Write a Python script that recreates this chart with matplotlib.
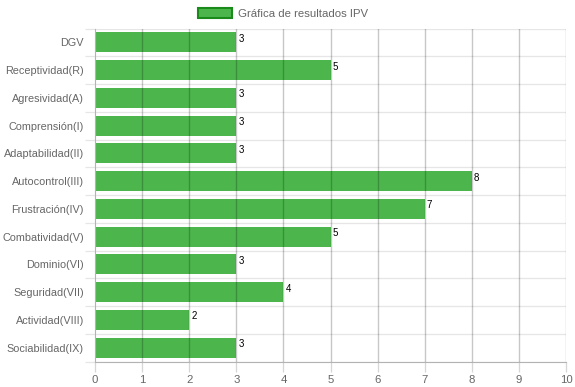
import matplotlib
matplotlib.use('Agg')
import matplotlib.pyplot as plt
from matplotlib.patches import Patch

plt.rcParams['font.family'] = ['Liberation Sans', 'DejaVu Sans']

categories = ['DGV', 'Receptividad(R)', 'Agresividad(A)', 'Comprensión(I)',
              'Adaptabilidad(II)', 'Autocontrol(III)', 'Frustración(IV)',
              'Combatividad(V)', 'Dominio(VI)', 'Seguridad(VII)',
              'Actividad(VIII)', 'Sociabilidad(IX)']
values = [3, 5, 3, 3, 3, 8, 7, 5, 3, 4, 2, 3]
series_label = 'Gráfica de resultados IPV'

bar_color = '#4cb64c'
edge_color = '#1a8a1a'
text_color = '#666666'

fig = plt.figure(figsize=(5.75, 3.87), dpi=100)
ax = fig.add_axes([95 / 575, 1 - 361.5 / 387, 471 / 575, 333 / 387])

n = len(categories)
ypos = list(range(n))
ax.barh(ypos, values, height=0.72, color=bar_color, zorder=2)

# value labels at bar ends
for y, v in zip(ypos, values):
    ax.annotate(str(v), (v, y - 0.36), textcoords='offset points', xytext=(1.5, -1),
                ha='left', va='top', fontsize=7, color='black', zorder=4)

ax.set_xlim(0, 10)
ax.set_ylim(n - 0.5, -0.5)
ax.set_xticks(range(0, 11))
ax.set_yticks(ypos)
ax.set_yticklabels(categories)
ax.set_yticks([b - 0.5 for b in range(n + 1)], minor=True)

# vertical grid over the bars, light horizontal grid at band edges
for x in range(1, 11):
    ax.axvline(x, color='black', alpha=0.22, lw=1.0, zorder=3)
for b in range(n + 1):
    ax.axhline(b - 0.5, color='#e6e6e6', lw=0.9, zorder=1)

for s in ['top', 'right']:
    ax.spines[s].set_visible(False)
ax.spines['left'].set_color('#b3b3b3')
ax.spines['bottom'].set_color('#b3b3b3')
ax.tick_params(axis='x', colors='#d6d6d6', labelcolor=text_color,
               labelsize=8.2, length=7, width=0.9, pad=2.5)
ax.tick_params(axis='y', which='major', length=0, labelcolor=text_color,
               labelsize=7.8, pad=8)
ax.tick_params(axis='y', which='minor', length=7, width=0.9, colors='#e6e6e6')

handle = Patch(facecolor=bar_color, edgecolor=edge_color, linewidth=1.5)
fig.legend([handle], [series_label], loc='upper center', bbox_to_anchor=(0.492, 1.005),
           frameon=False, fontsize=8.2, handlelength=3.0, handleheight=0.9,
           handletextpad=0.5, labelcolor=text_color)

fig.savefig('out.png', dpi=100, facecolor='white')
plt.close(fig)
